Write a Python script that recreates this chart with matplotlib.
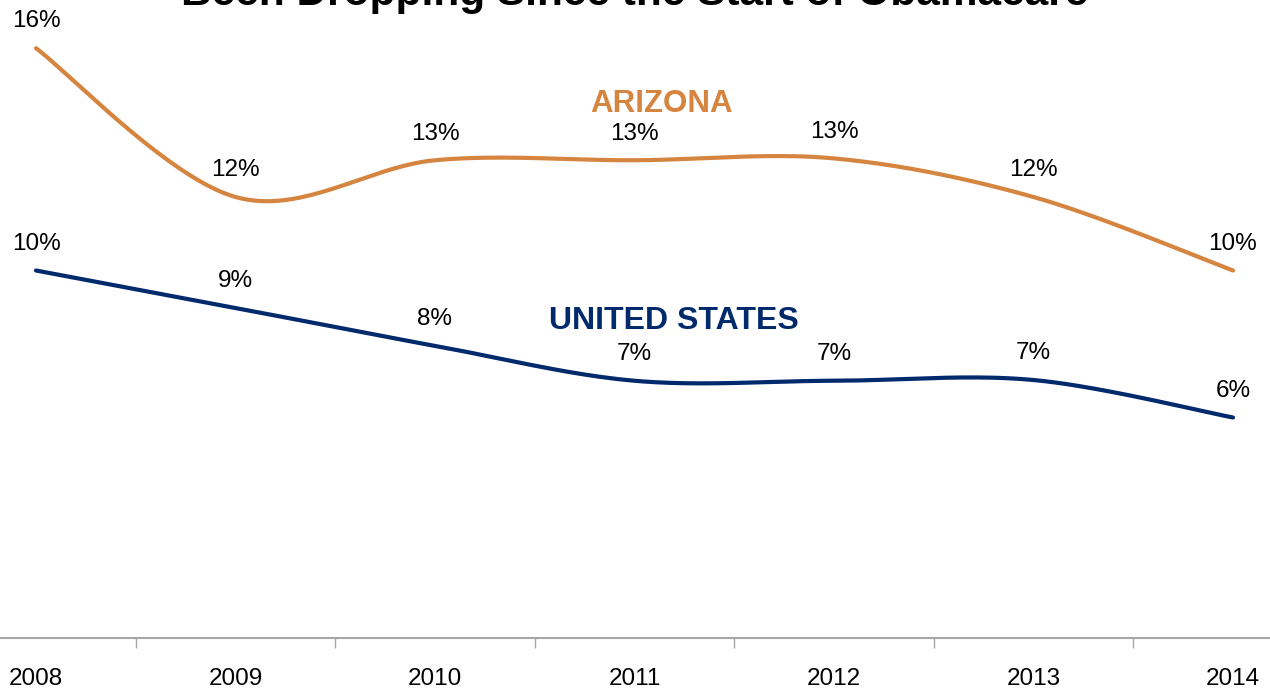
"""
Uninsured rate, Arizona vs United States, 2008-2014 (smoothed Excel-style lines)
"""
import numpy as np
import matplotlib
matplotlib.use('Agg')
import matplotlib.pyplot as plt

plt.rcParams['font.family'] = ['Liberation Sans', 'DejaVu Sans']

# --- Data ---
years = [2008, 2009, 2010, 2011, 2012, 2013, 2014]
arizona = [16.05, 12.0, 13.0, 13.0, 13.05, 12.0, 10.0]
united_states = [10.0, 8.98, 7.95, 7.0, 7.0, 7.02, 6.0]
arizona_labels = ['16%', '12%', '13%', '13%', '13%', '12%', '10%']
us_labels = ['10%', '9%', '8%', '7%', '7%', '7%', '6%']

COLORS = {
    'arizona': '#D5853F',
    'us':      '#002A6C',
    'axis':    '#A6A6A6',
}


def smooth_curve(x, y, steps=40):
    """Excel-like smoothed line: cubic Bezier through points (Catmull-Rom)."""
    x = np.asarray(x, float)
    y = np.asarray(y, float)
    px = np.concatenate([[x[0]], x, [x[-1]]])
    py = np.concatenate([[y[0]], y, [y[-1]]])
    out_x, out_y = [], []
    t = np.linspace(0, 1, steps)
    for i in range(1, len(px) - 2):
        p0 = np.array([px[i], py[i]])
        p3 = np.array([px[i + 1], py[i + 1]])
        c1 = p0 + (np.array([px[i + 1], py[i + 1]]) - np.array([px[i - 1], py[i - 1]])) / 6
        c2 = p3 - (np.array([px[i + 2], py[i + 2]]) - np.array([px[i], py[i]])) / 6
        pts = ((1 - t) ** 3)[:, None] * p0 + (3 * (1 - t) ** 2 * t)[:, None] * c1 \
            + (3 * (1 - t) * t ** 2)[:, None] * c2 + (t ** 3)[:, None] * p3
        out_x.extend(pts[:, 0])
        out_y.extend(pts[:, 1])
    return np.array(out_x), np.array(out_y)


fig = plt.figure(figsize=(12.7, 6.91), dpi=100)
W, H = 1270, 691
# axes spans from pixel x 0..1270, y 0..638 (x-axis line at 638)
ax = fig.add_axes([0, (H - 638) / H, 1, 638 / H])

# year 2008 at pixel 36, 2014 at 1233
px_per_year = (1233 - 36) / 6
ax.set_xlim(2008 - 36 / px_per_year, 2008 + (W - 36) / px_per_year)
px_per_pct = 36.75
ax.set_ylim(0, 638 / px_per_pct)

for values, color in [(arizona, COLORS['arizona']), (united_states, COLORS['us'])]:
    sx, sy = smooth_curve(years, values)
    ax.plot(sx, sy, color=color, linewidth=3.0, solid_capstyle='round', clip_on=False)

for values, labels in [(arizona, arizona_labels), (united_states, us_labels)]:
    for x, v, lab in zip(years, values, labels):
        ax.annotate(lab, (x, v), xytext=(0, 19.2), textcoords='offset points',
                    ha='center', va='center', fontsize=17.5, color='black',
                    annotation_clip=False)

# series names
ax.text(2008 + (662 - 36) / px_per_year, (638 - 104) / px_per_pct, 'ARIZONA',
        ha='center', va='center', fontsize=22.5, fontweight='bold', color=COLORS['arizona'])
ax.text(2008 + (674 - 36) / px_per_year, (638 - 321) / px_per_pct, 'UNITED STATES',
        ha='center', va='center', fontsize=23, fontweight='bold', color=COLORS['us'])

# axes styling
for side in ['top', 'right', 'left']:
    ax.spines[side].set_visible(False)
ax.spines['bottom'].set_color(COLORS['axis'])
ax.spines['bottom'].set_linewidth(1.5)
ax.set_yticks([])
ax.set_xticks(years)
ax.set_xticklabels([str(y) for y in years], fontsize=17.5)
ax.tick_params(axis='x', which='major', length=0, pad=21.5)
ax.set_xticks([y + 0.5 for y in years[:-1]], minor=True)
ax.tick_params(axis='x', which='minor', length=7, width=1, color=COLORS['axis'])

# title (top line cropped in the original)
fig.text(0.5, 1 - 5 / H, 'Been Dropping Since the Start of Obamacare', ha='center',
         va='baseline', fontsize=30.5, fontweight='bold', color='black')

fig.savefig('out.png', dpi=100)
